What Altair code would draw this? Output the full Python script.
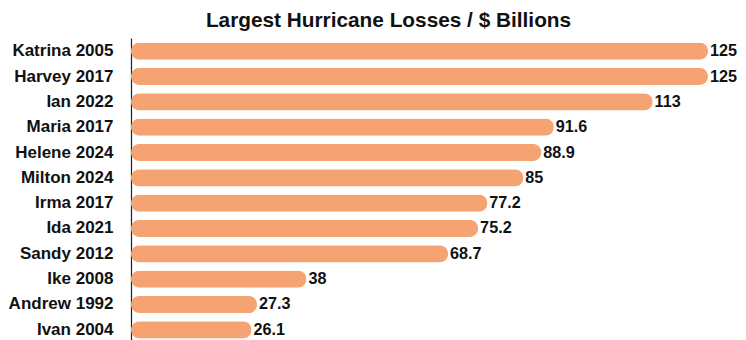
import altair as alt
import pandas as pd

names = ["Katrina 2005", "Harvey 2017", "Ian 2022", "Maria 2017", "Helene 2024",
         "Milton 2024", "Irma 2017", "Ida 2021", "Sandy 2012", "Ike 2008",
         "Andrew 1992", "Ivan 2004"]
losses = [125, 125, 113, 91.6, 88.9, 85, 77.2, 75.2, 68.7, 38, 27.3, 26.1]
labels = ["125", "125", "113", "91.6", "88.9", "85", "77.2", "75.2", "68.7", "38", "27.3", "26.1"]

df = pd.DataFrame({"name": names, "loss": losses, "label": labels})

FONT = "Liberation Sans"

y = alt.Y("name:N", sort=names, title=None,
          scale=alt.Scale(paddingInner=0.32, paddingOuter=0.18),
          axis=alt.Axis(ticks=False, labelFontSize=17, labelFontWeight="bold",
                        labelFont=FONT, labelColor="#111111", labelPadding=18,
                        domainColor="#222222", domainWidth=1.2))
x = alt.X("loss:Q", title=None, axis=None,
          scale=alt.Scale(domain=[0, 125], nice=False, zero=True))

bars = alt.Chart(df).mark_bar(color="#F5A373", cornerRadius=8.5).encode(x=x, y=y)
text = alt.Chart(df).mark_text(align="left", baseline="middle", dx=2, fontSize=16.2,
                               fontWeight="bold", font=FONT, color="#111111").encode(
    x=x, y=y, text="label:N")

chart = (bars + text).properties(
    width=577, height=305,
    title=alt.TitleParams("Largest Hurricane Losses / $ Billions", fontSize=20.8,
                          font=FONT, fontWeight="bold", color="#111111",
                          anchor="middle", dx=-31, offset=6),
    padding={"left": 0, "top": 2, "right": 0, "bottom": 0},
).configure_view(stroke=None)

chart.save("out.html", embed_options={"renderer": "svg", "actions": False})
